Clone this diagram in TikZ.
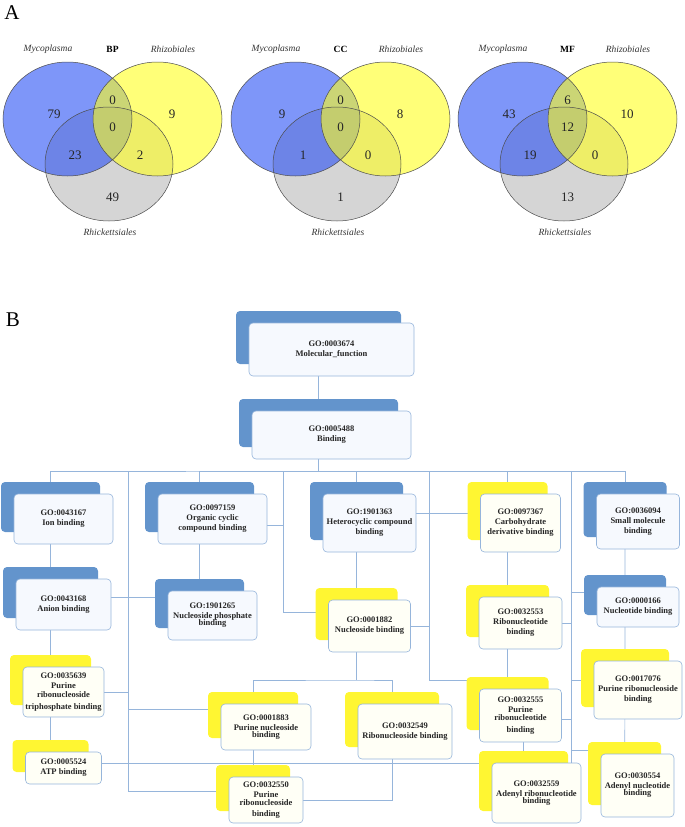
\documentclass[tikz,border=0pt]{standalone}
\usepackage{fontspec}
\setmainfont{Liberation Serif}
\usepackage{xcolor}
\usepackage{tikz}
\usetikzlibrary{backgrounds,shadows}

\definecolor{vblue}{RGB}{40,80,245}
\definecolor{vyellow}{RGB}{255,255,30}
\definecolor{vgray}{RGB}{185,185,185}
\definecolor{goblue}{RGB}{99,148,204}
\definecolor{goyellow}{RGB}{255,246,50}
\definecolor{golin}{RGB}{150,181,219}
\definecolor{bluetint}{RGB}{246,249,254}
\definecolor{yellowtint}{RGB}{255,255,246}

\tikzset{
  term/.style={rectangle, rounded corners=4pt, draw=golin, line width=0.6pt, align=center,
    inner sep=1pt, font=\fontsize{8.5}{10}\selectfont\bfseries, text=black!85},
  blueterm/.style={term, fill=bluetint, general shadow={fill=goblue, shadow xshift=-13pt, shadow yshift=12pt}},
  yellowterm/.style={term, fill=yellowtint, general shadow={fill=goyellow, shadow xshift=-13pt, shadow yshift=12pt}},
  link/.style={draw=golin, line width=0.6pt},
  kx/.style={xshift=-13pt},
  setname/.style={font=\fontsize{9.5}{11}\selectfont\itshape, text=black!80},
  count/.style={font=\fontsize{13}{15}\selectfont, text=black!85},
}

\begin{document}
\begin{tikzpicture}[x=1pt,y=-1pt]
    \useasboundingbox (0,0) rectangle (685,827);

    % Panel A: Venn diagrams
    \node[font=\fontsize{21}{24}\selectfont] (pa) at (12,13) {A};
    \foreach \dx/\sub/\nm/\nmy/\nr/\nc/\nmg/\nyg/\ng in {0/BP/79/0/9/0/23/2/49, 228/CC/9/0/8/0/1/0/1, 455/MF/43/6/10/12/19/0/13} {
      \begin{scope}[xshift=\dx pt]
        \fill[vgray, fill opacity=0.6] (109,164) ellipse [x radius=64, y radius=57];
        \fill[vblue, fill opacity=0.6] (67.5,119) ellipse [x radius=64.5, y radius=57];
        \fill[vyellow, fill opacity=0.6] (157.5,119) ellipse [x radius=64.5, y radius=57];
        \draw[black!70, line width=0.5pt] (109,164) ellipse [x radius=64, y radius=57];
        \draw[black!70, line width=0.5pt] (67.5,119) ellipse [x radius=64.5, y radius=57];
        \draw[black!70, line width=0.5pt] (157.5,119) ellipse [x radius=64.5, y radius=57];
        % set names
        \node[setname] (myco\sub) at (48,49) {Mycoplasma};
        \node[font=\fontsize{9.5}{11}\selectfont\bfseries] (onto\sub) at (112.5,49) {\sub};
        \node[setname] (rhiz\sub) at (173,49) {Rhizobiales};
        \node[setname] (rick\sub) at (110,232) {Rhickettsiales};
        % counts
        \node[count] (m\sub) at (54,114) {\nm};
        \node[count] (my\sub) at (112.5,100) {\nmy};
        \node[count] (r\sub) at (172,114) {\nr};
        \node[count] (c\sub) at (112.5,127) {\nc};
        \node[count] (mg\sub) at (75,155) {\nmg};
        \node[count] (yg\sub) at (140,155) {\nyg};
        \node[count] (g\sub) at (112.5,197) {\ng};
      \end{scope}
    }

    % Panel B: GO tree
    \node[font=\fontsize{21}{24}\selectfont] (pb) at (13,320) {B};

    % Root
    \node[blueterm, minimum width=165pt, minimum height=53pt] (mf) at (331.5,349.5) {GO:0003674\\Molecular\_function};
    \node[blueterm, minimum width=159pt, minimum height=48pt] (bind) at (331.5,435) {GO:0005488\\Binding};

    % First level
    \node[blueterm, minimum width=99pt, minimum height=50pt] (ion) at (63.5,519) {GO:0043167\\Ion binding};
    \node[blueterm, minimum width=109pt, minimum height=50pt] (orgcyc) at (212.5,519) {GO:0097159\\Organic cyclic\\compound binding};
    \node[blueterm, minimum width=93pt, minimum height=58pt] (hetcyc) at (369.5,523) {GO:1901363\\Heterocyclic compound\\binding};
    \node[yellowterm, minimum width=80pt, minimum height=58pt] (carbo) at (520.5,523) {GO:0097367\\Carbohydrate\\derivative binding};
    \node[blueterm, minimum width=83pt, minimum height=55pt] (smallmol) at (638,521.5) {GO:0036094\\Small molecule\\binding};

    % Second level
    \node[blueterm, minimum width=95pt, minimum height=51pt] (anion) at (63.5,604.5) {GO:0043168\\Anion binding};
    \node[blueterm, minimum width=89pt, minimum height=49pt] (nucphos) at (212.5,615.5) {GO:1901265\\Nucleoside phosphate\\[-3pt]binding};
    \node[yellowterm, minimum width=82pt, minimum height=52pt] (nuclside) at (369.5,626) {GO:0001882\\Nucleoside binding};
    \node[yellowterm, minimum width=83pt, minimum height=52pt] (ribonuc) at (520.5,623) {GO:0032553\\Ribonucleotide\\binding};
    \node[blueterm, minimum width=82pt, minimum height=40pt] (nucleot) at (638,607) {GO:0000166\\Nucleotide binding};

    % Lower levels
    \node[yellowterm, minimum width=81pt, minimum height=50pt] (purtri) at (63.5,692) {GO:0035639\\Purine\\[-1.5pt]ribonucleoside\\[2pt]triphosphate binding};
    \node[yellowterm, minimum width=76pt, minimum height=32pt] (atp) at (63.5,768) {GO:0005524\\ATP binding};
    \node[yellowterm, minimum width=90pt, minimum height=46pt] (purnucs) at (266,727) {GO:0001883\\Purine nucleoside\\[-3pt]binding};
    \node[yellowterm, minimum width=94pt, minimum height=55pt] (ribnucs) at (405,731.5) {GO:0032549\\Ribonucleoside binding};
    \node[yellowterm, minimum width=74pt, minimum height=46pt] (purribs) at (266,800) {GO:0032550\\Purine\\[-2pt]ribonucleoside\\[1.5pt]binding};
    \node[yellowterm, minimum width=82pt, minimum height=53pt] (purribt) at (520.5,715.5) {GO:0032555\\Purine\\[-2pt]ribonucleotide\\[1.5pt]binding};
    \node[yellowterm, minimum width=89pt, minimum height=60pt] (adenylrib) at (536.5,793) {GO:0032559\\Adenyl ribonucleotide\\[-3pt]binding};
    \node[yellowterm, minimum width=88pt, minimum height=58pt] (purribs2) at (638,690) {GO:0017076\\Purine ribonucleoside\\binding};
    \node[yellowterm, minimum width=73pt, minimum height=63pt] (adenyl) at (637.5,785.5) {GO:0030554\\Adenyl nucleotide\\[-3pt]binding};

    % Bus and trunks
    \coordinate (bus) at (318.5,471);
    \coordinate (trunkA) at (128,471);
    \coordinate (trunkB) at (283,471);
    \coordinate (trunkC) at (429,471);
    \coordinate (trunkD) at (571,471);
    \coordinate (split) at (356.5,680);

    % Connections
    \begin{pgfonlayer}{background}
      \draw[link] ([kx]mf.center) -- ([kx]bind.center) -- (bus);
      \draw[link] ([kx]ion.center) |- (bus) -| ([kx]smallmol.center);
      \draw[link] ([kx]orgcyc.center) |- (bus);
      \draw[link] ([kx]hetcyc.center) |- (bus);
      \draw[link] ([kx]carbo.center) |- (bus);

      \draw[link] ([kx]ion.center) -- ([kx]anion.center) -- ([kx]purtri.center) -- ([kx]atp.center);
      \draw[link] ([kx]orgcyc.center) -- ([kx]nucphos.center);
      \draw[link] ([kx]hetcyc.center) -- ([kx]nuclside.center) -- (split);
      \draw[link] ([kx]purnucs.center) |- (split) -| ([kx]ribnucs.center);
      \draw[link] ([kx]purnucs.center) -- ([kx]purribs.center);
      \draw[link] ([kx]ribnucs.center) |- (purribs.east);
      \draw[link] ([kx]carbo.center) -- ([kx]ribonuc.center) -- ([kx]purribt.center);
      \draw[link] ([kx]adenylrib.center) |- (purribt.center);
      \draw[link] ([kx]smallmol.center) -- ([kx]nucleot.center) -- ([kx]purribs2.center) -- ([kx]adenyl.center);

      % trunk A
      \draw[link] (trunkA) |- ([yshift=9pt]purribs.center);
      \draw[link] ([yshift=7.5pt]anion.east) -| ([kx]nucphos.center);
      \draw[link] (purtri.east) -| (trunkA);
      \draw[link] ([yshift=-6pt]purnucs.north) -| (trunkA);
      % trunk B
      \draw[link] ([yshift=14pt]nuclside.west) -| (trunkB);
      \draw[link] ([yshift=-6pt]orgcyc.east) -| (trunkB);
      % trunk C
      \draw[link] ([yshift=35.5pt]purribt.center) -| (trunkC);
      \draw[link] ([yshift=10pt]hetcyc.east) -| (carbo.center);
      \draw[link] (nuclside.east) -| (trunkC);
      % trunk D
      \draw[link] ([yshift=5pt]atp.east) -| (trunkD);
      \draw[link] ([yshift=15pt]nucleot.center) -| (trunkD);
      \draw[link] (ribonuc.east) -| (trunkD);
      \draw[link] ([yshift=10pt]purribs2.center) -| (trunkD);
      \draw[link] ([yshift=-4pt]purribt.east) -| (trunkD);
      \draw[link] ([yshift=3pt]adenyl.north) -| (trunkD);
    \end{pgfonlayer}
\end{tikzpicture}
\end{document}
